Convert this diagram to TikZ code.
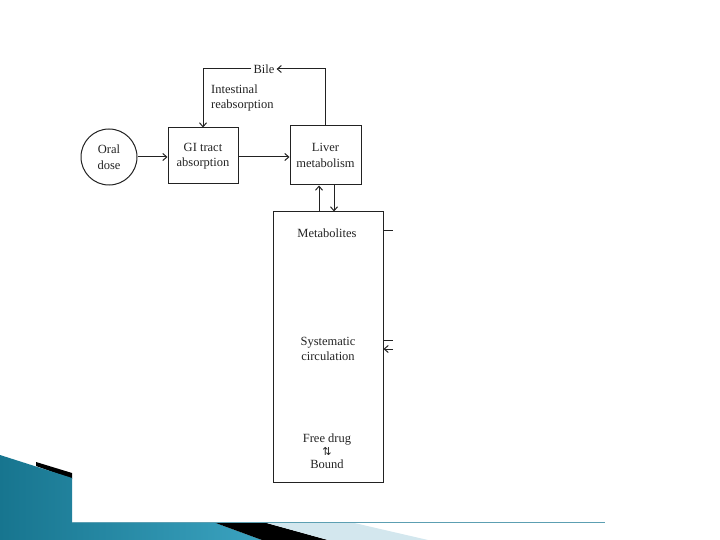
\documentclass[tikz,border=0pt]{standalone}
\usepackage{fontspec}
\setmainfont{Liberation Serif}
\newfontfamily\symfont{DejaVu Sans}
\usetikzlibrary{arrows.meta}
\definecolor{tealdark}{HTML}{17758F}
\definecolor{teallight}{HTML}{3BA3C0}
\definecolor{paleblue}{HTML}{D3E7EE}
\definecolor{tealline}{HTML}{5C9FB2}
\definecolor{ink}{HTML}{222222}
\begin{document}
\begin{tikzpicture}[x=1pt,y=-1pt,
  every node/.style={font=\fontsize{12.5}{15.5}\selectfont, text=ink},
  box/.style={draw=ink, line width=1pt, align=center, inner sep=2pt},
  arr/.style={draw=ink, line width=1pt, -{Straight Barb[length=4pt,width=7pt]}},
  ln/.style={draw=ink, line width=1pt}]
\useasboundingbox (0,0) rectangle (720,540);
% slide decoration
\fill[black] (36,462) -- (72,473) -- (72,479) -- (36,466) -- cycle;
\shade[left color=tealdark, right color=teallight] (0,455) -- (72,478) -- (72,522) -- (213,522) -- (262,540) -- (0,540) -- cycle;
\fill[black] (213,522) -- (263,522) -- (328,540) -- (262,540) -- cycle;
\fill[paleblue] (263,522) -- (350,522) -- (428,540) -- (328,540) -- cycle;
\draw[tealline, line width=0.8pt] (72,522) -- (605,522);
% diagram
\node[circle, draw=ink, line width=1pt, minimum size=56pt, inner sep=0pt, align=center] (oral) at (109,157) {Oral\\dose};
\node[box, minimum width=70pt, minimum height=56pt] (gi) at (203,156) {GI tract\\absorption};
\node[box, minimum width=71pt, minimum height=59pt] (liver) at (325.5,155.5) {Liver\\metabolism};
\node[inner sep=2pt] (bile) at (264,69) {Bile};
\node[align=left, anchor=west, inner sep=0pt] (intest) at (211,98) {Intestinal\\reabsorption};
\node[box, minimum width=110pt, minimum height=270pt] (sys) at (328,347) {};
\node (metab) at (327,233) {Metabolites};
\node[align=center] (circ) at (328,349) {Systematic\\circulation};
\node[align=center, font=\fontsize{12.5}{13}\selectfont] (free) at (327,451) {Free drug\\{\symfont\fontsize{11}{11}\selectfont ⇅}\\Bound};
% connectors
\draw[arr] (oral.east) -- (gi.west |- oral.east);
\draw[arr] (gi.east |- oral.east) -- (liver.west |- oral.east);
\draw[arr] (liver.north) |- (bile.east);
\draw[arr] (bile.west) -| (gi.north);
\draw[arr] ([xshift=-9pt]sys.north) -- ([xshift=-9pt]sys.north |- liver.south);
\draw[arr] ([xshift=6pt]sys.north |- liver.south) -- ([xshift=6pt]sys.north);
\coordinate (s1) at (393,231);
\coordinate (s2) at (393,340);
\coordinate (s3) at (393,349);
\draw[ln] (sys.east |- s1) -- (s1);
\draw[ln] (sys.east |- s2) -- (s2);
\draw[arr] (s3) -- (sys.east |- s3);
\end{tikzpicture}
\end{document}
